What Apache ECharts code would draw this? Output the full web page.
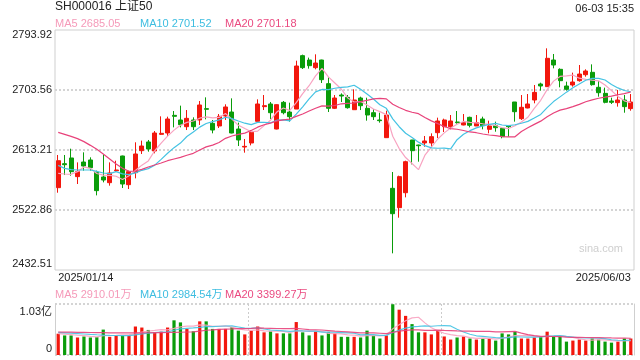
<!DOCTYPE html>
<html><head><meta charset="utf-8">
<script src="https://cdn.jsdelivr.net/npm/echarts@6/dist/echarts.min.js"></script>
<style>html,body{margin:0;padding:0;background:#fff}#c{width:640px;height:360px}</style>
</head><body><div id="c"></div>
<script>
const dates = [
'2025/01/14','2025/01/15','2025/01/16','2025/01/17','2025/01/20','2025/01/21','2025/01/22','2025/01/23','2025/01/24','2025/01/27',
'2025/02/05','2025/02/06','2025/02/07','2025/02/10','2025/02/11','2025/02/12','2025/02/13','2025/02/14','2025/02/17','2025/02/18',
'2025/02/19','2025/02/20','2025/02/21','2025/02/24','2025/02/25','2025/02/26','2025/02/27','2025/02/28','2025/03/03','2025/03/04',
'2025/03/05','2025/03/06','2025/03/07','2025/03/10','2025/03/11','2025/03/12','2025/03/13','2025/03/14','2025/03/17','2025/03/18',
'2025/03/19','2025/03/20','2025/03/21','2025/03/24','2025/03/25','2025/03/26','2025/03/27','2025/03/28','2025/03/31','2025/04/01',
'2025/04/02','2025/04/03','2025/04/07','2025/04/08','2025/04/09','2025/04/10','2025/04/11','2025/04/14','2025/04/15','2025/04/16',
'2025/04/17','2025/04/18','2025/04/21','2025/04/22','2025/04/23','2025/04/24','2025/04/25','2025/04/28','2025/04/29','2025/04/30',
'2025/05/06','2025/05/07','2025/05/08','2025/05/09','2025/05/12','2025/05/13','2025/05/14','2025/05/15','2025/05/16','2025/05/19',
'2025/05/20','2025/05/21','2025/05/22','2025/05/23','2025/05/26','2025/05/27','2025/05/28','2025/05/29','2025/05/30','2025/06/03'];

const open = [2556.5,2592.6,2601.2,2573.1,2595.1,2598.2,2579.6,2572.6,2564.0,2582.1,
2604.2,2561.0,2579.1,2612.2,2625.3,2611.7,2636.8,2638.8,2665.4,2658.4,
2648.3,2658.4,2658.4,2675.5,2653.4,2649.4,2664.4,2670.4,2644.8,2617.7,
2623.8,2656.4,2678.5,2682.5,2644.8,2685.0,2670.4,2674.9,2755.3,2748.7,
2737.2,2748.7,2713.1,2676.0,2696.0,2692.5,2673.9,2691.5,2676.0,2669.4,
2658.4,2631.8,2555.5,2526.4,2548.9,2628.3,2620.7,2623.8,2623.8,2639.3,
2648.3,2648.3,2655.4,2650.9,2662.4,2649.4,2659.9,2644.3,2649.9,2645.8,
2649.4,2685.5,2660.4,2676.5,2688.5,2712.6,2708.6,2748.7,2734.7,2709.6,
2711.1,2717.6,2726.6,2730.2,2707.6,2698.5,2687.0,2684.5,2688.5,2675.5];

const close = [2597.1,2591.1,2580.6,2580.6,2589.1,2586.6,2552.0,2568.0,2578.6,2583.1,
2562.0,2580.6,2607.2,2619.2,2614.7,2638.8,2638.3,2659.9,2663.9,2651.4,
2660.9,2648.3,2681.0,2674.5,2643.3,2663.9,2678.0,2638.8,2628.3,2618.7,
2639.8,2682.5,2680.0,2669.4,2681.5,2669.4,2663.4,2739.7,2737.2,2740.2,
2744.2,2719.1,2676.0,2691.5,2694.5,2676.9,2688.5,2679.9,2665.9,2663.4,
2657.4,2665.9,2517.3,2573.1,2595.6,2612.2,2619.7,2626.8,2633.3,2656.9,
2658.4,2656.9,2654.4,2654.4,2650.4,2654.4,2649.9,2649.4,2646.8,2633.3,
2648.3,2670.9,2677.5,2682.5,2700.0,2709.6,2751.3,2741.2,2717.6,2704.6,
2715.6,2727.6,2732.2,2711.6,2699.5,2685.0,2685.0,2688.5,2678.5,2685.5];

const low = [2548.9,2575.5,2574.6,2562.0,2582.1,2582.1,2544.9,2564.5,2559.5,2580.1,
2556.0,2554.5,2570.5,2607.2,2610.7,2608.2,2635.8,2634.3,2647.3,2647.3,
2643.3,2643.3,2650.9,2659.4,2638.3,2646.3,2658.4,2638.3,2619.2,2609.2,
2620.2,2655.9,2673.4,2659.9,2644.3,2666.9,2655.9,2674.9,2735.2,2735.7,
2734.7,2714.1,2670.4,2674.9,2685.5,2675.5,2673.9,2673.4,2657.4,2658.4,
2654.4,2631.8,2457.6,2511.3,2541.9,2591.6,2595.6,2618.2,2617.2,2631.3,
2640.3,2644.3,2652.9,2650.4,2647.3,2649.4,2644.3,2638.3,2640.8,2630.8,
2633.3,2655.9,2658.4,2676.0,2683.5,2702.6,2708.6,2736.2,2707.6,2702.6,
2708.6,2716.1,2723.6,2710.1,2693.5,2683.5,2682.5,2678.5,2669.4,2672.4];

const high = [2605.7,2605.7,2615.2,2594.6,2609.7,2602.2,2582.1,2606.7,2594.6,2597.1,
2604.7,2582.1,2624.8,2627.3,2628.3,2641.8,2663.9,2663.4,2671.9,2680.0,
2673.4,2662.4,2687.0,2692.5,2658.4,2667.4,2682.0,2691.0,2654.4,2629.8,
2643.3,2689.5,2696.0,2685.5,2682.0,2687.0,2684.5,2747.7,2756.8,2752.3,
2757.3,2749.2,2722.6,2696.0,2698.5,2696.0,2704.6,2693.5,2692.0,2674.5,
2669.4,2672.4,2580.1,2574.6,2597.1,2628.3,2621.2,2634.3,2638.3,2661.9,
2660.4,2665.9,2671.9,2667.4,2663.4,2665.9,2663.4,2657.4,2655.9,2647.3,
2650.9,2685.5,2696.0,2697.5,2711.1,2714.6,2766.3,2757.8,2736.2,2716.1,
2729.7,2741.2,2734.7,2742.2,2717.1,2707.1,2692.0,2703.6,2696.0,2697.5];

// volume in 万
const volume = [4298,3951,3951,3535,3743,3535,3605,5129,3674,3951,
3951,3882,5754,5546,5060,4575,4713,5546,7001,6586,
5268,4783,6793,6793,5268,5268,5268,5615,4921,4159,
4921,5754,4575,4783,4367,4367,4367,6655,4575,3951,
4713,3951,4575,4436,3674,3674,3674,3535,4921,3951,
3327,3951,10250,9150,7902,6239,4575,4575,4159,4921,
3743,3120,3535,3743,3327,3120,3327,3327,2912,4367,
4159,4713,3327,3327,3535,3674,4713,3743,3743,2704,
2912,3120,2912,3327,3120,2704,2496,2704,3327,3327];

// moving-average values before enough history is visible
const ma5Head = [2578.1,2577.1,2576.6,2580.6];
const ma10Head = [2590.0,2585.6,2583.6,2583.1,2583.1,2583.1,2581.1,2578.6,2577.6];
const ma20Head = [2639.8,2636.8,2633.8,2630.3,2625.8,2620.2,2614.2,2607.2,2599.7,2592.1,
2585.6,2581.1,2581.6,2584.1,2587.6,2590.6,2593.6,2597.1,2599.7];
const vma5Head = [4300,4200,4100,3990];
const vma10Head = [4550,4480,4400,4320,4240,4160,4090,4030,3980];
const vma20Head = [4650,4620,4600,4580,4560,4540,4520,4500,4480,4470,4460,4450,4460,4470,4490,4510,4530,4550,4580];

const yTicks = [2432.51,2522.86,2613.21,2703.56,2793.92];
const volTicks = [0,10300];
const volTickLabels = ['0','1.03亿'];
const maNames = ['MA5','MA10','MA20'];
const maLegendValues = ['2685.05','2701.52','2701.18'];
const volMaLegendValues = ['2910.01万','2984.54万','3399.27万'];
const titleText = 'SH000016 上证50';
const timeText = '06-03 15:35';

const RED = '#f2170d', GREEN = '#0a9c0a';
const MA_COLORS = ['#f8a3c1','#45c3e3','#e8437b'];
const MA_TEXT = ['#f59ab9','#3dbde0','#ea4a80'];
const GRIDDOT = {type: 'dotted', color: '#d4d4d4', width: 2};
const FONT = 'Arial, "Liberation Sans", "Noto Sans CJK SC", sans-serif';

function ma(src, n, head) {
  return src.map((v, i) => {
    if (i < n - 1) return head[i];
    let s = 0; for (let j = i - n + 1; j <= i; j++) s += src[j];
    return +(s / n).toFixed(2);
  });
}
const candles = dates.map((d, i) => [open[i], close[i], low[i], high[i]]);
const volData = volume.map((v, i) => ({value: v, itemStyle: {color: close[i] >= open[i] ? RED : GREEN}}));
const priceMA = [ma(close,5,ma5Head), ma(close,10,ma10Head), ma(close,20,ma20Head)];
const volMA = [ma(volume,5,vma5Head), ma(volume,10,vma10Head), ma(volume,20,vma20Head)];

const titles = [
  {text: titleText, left: 55, top: 1, padding: 0, textStyle: {fontSize: 12, fontWeight: 'normal', color: '#222', fontFamily: FONT}},
  {text: timeText, right: 6, top: 3, padding: 0, textStyle: {fontSize: 11, fontWeight: 'normal', color: '#222', fontFamily: FONT}},
  {text: 'sina.com', right: 17, top: 243, padding: 0, textStyle: {fontSize: 11, fontWeight: 'normal', color: '#cfcfcf', fontFamily: FONT}}
];
maNames.forEach((n, i) => {
  titles.push({text: n + ' ' + maLegendValues[i], left: 55 + 85 * i, top: 18, padding: 0,
    textStyle: {fontSize: 11, fontWeight: 'normal', color: MA_TEXT[i], fontFamily: FONT}});
  titles.push({text: n + ' ' + volMaLegendValues[i], left: 55 + 85 * i, top: 289, padding: 0,
    textStyle: {fontSize: 11, fontWeight: 'normal', color: MA_TEXT[i], fontFamily: FONT}});
});

const lastIdx = dates.length - 1;
const option = {
  animation: false,
  backgroundColor: '#fff',
  title: titles,
  grid: [
    {left: 55, right: 6, top: 30, height: 240, show: true, borderColor: '#cfcfcf', borderWidth: 1},
    {left: 55, right: 6, top: 304, height: 51}
  ],
  xAxis: [
    {type: 'category', gridIndex: 0, data: dates, boundaryGap: true,
     axisLine: {show: false}, axisTick: {show: false}, splitLine: {show: false},
     axisLabel: {interval: (i) => i === 0 || i === lastIdx, alignMinLabel: 'left', alignMaxLabel: 'right',
       margin: 2, fontSize: 11, color: '#222', fontFamily: FONT}},
    {type: 'category', gridIndex: 1, data: dates, boundaryGap: true,
     axisLine: {show: false}, axisTick: {show: false}, axisLabel: {show: false},
     splitLine: {show: true, interval: (i) => i === 30 || i === 60, lineStyle: {type: [2, 2], color: '#cccccc', width: 1}}}
  ],
  yAxis: [
    {type: 'value', gridIndex: 0, min: yTicks[0], max: yTicks[yTicks.length - 1],
     axisLine: {show: false}, axisTick: {show: false, customValues: yTicks},
     splitLine: {show: false},
     axisLabel: {customValues: yTicks, margin: 3, fontSize: 11, color: '#222', fontFamily: FONT,
       formatter: (v) => {
         const s = v.toFixed(2);
         if (Math.abs(v - yTicks[0]) < 1e-6) return '{b|' + s + '}';
         if (Math.abs(v - yTicks[yTicks.length - 1]) < 1e-6) return '{t|' + s + '}';
         return s;
       },
       rich: {
         t: {fontSize: 11, color: '#222', fontFamily: FONT, padding: [10, 0, 0, 0]},
         b: {fontSize: 11, color: '#222', fontFamily: FONT, padding: [0, 0, 13, 0]}
       }}},
    {type: 'value', gridIndex: 1, min: volTicks[0], max: volTicks[1], interval: volTicks[1],
     axisLine: {show: true, lineStyle: {color: '#cfcfcf'}}, axisTick: {show: false},
     splitLine: {show: true, lineStyle: GRIDDOT},
     axisLabel: {margin: 3, fontSize: 11, color: '#222', fontFamily: FONT,
       formatter: (v) => {
         const i = volTicks.indexOf(v);
         const s = volTickLabels[i];
         return i === 0 ? '{b|' + s + '}' : '{t|' + s + '}';
       },
       rich: {
         t: {fontSize: 11, color: '#222', fontFamily: FONT, padding: [15, 0, 0, 0]},
         b: {fontSize: 11, color: '#222', fontFamily: FONT, padding: [0, 0, 12, 0]}
       }}},
    {type: 'value', gridIndex: 1, position: 'right', min: volTicks[0], max: volTicks[1],
     axisLine: {show: true, lineStyle: {color: '#cfcfcf'}}, axisTick: {show: false},
     axisLabel: {show: false}, splitLine: {show: false}}
  ],
  series: [
    {type: 'candlestick', xAxisIndex: 0, yAxisIndex: 0, data: candles, barWidth: '70%', z: 2,
     itemStyle: {color: RED, color0: GREEN, borderColor: RED, borderColor0: GREEN, borderWidth: 1},
     markLine: {silent: true, symbol: ['none', 'none'], label: {show: false}, animation: false, z: 0,
       lineStyle: GRIDDOT, emphasis: {disabled: true},
       data: yTicks.slice(1, -1).map((v) => ({yAxis: v}))}},
    ...priceMA.map((d, i) => ({type: 'line', xAxisIndex: 0, yAxisIndex: 0, data: d, symbol: 'none',
      lineStyle: {color: MA_COLORS[i], width: 1.2}, z: 3})),
    {type: 'bar', xAxisIndex: 1, yAxisIndex: 1, data: volData, barWidth: '50%'},
    ...volMA.map((d, i) => ({type: 'line', xAxisIndex: 1, yAxisIndex: 1, data: d, symbol: 'none',
      lineStyle: {color: MA_COLORS[i], width: 1.2, opacity: 0.9}, z: 3}))
  ]
};
const chart = echarts.init(document.getElementById('c'), null, {renderer: 'canvas'});
chart.setOption(option);
</script>
</body></html>
